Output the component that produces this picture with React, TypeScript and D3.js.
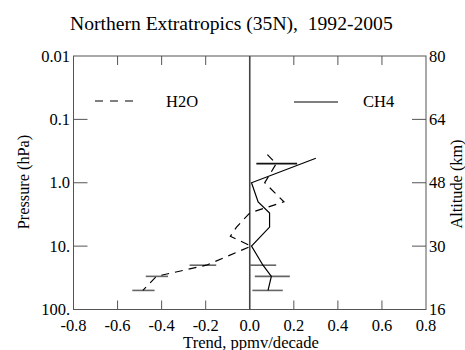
import React from "react";
import * as d3 from "d3";

const xTicks = [-0.8, -0.6, -0.4, -0.2, 0.0, 0.2, 0.4, 0.6, 0.8];
const xTickLabels = ["-0.8", "-0.6", "-0.4", "-0.2", "0.0", "0.2", "0.4", "0.6", "0.8"];
const pTicks = [0.01, 0.1, 1, 10, 100];
const pTickLabels = ["0.01", "0.1", "1.0", "10.", "100."];
const altLabels = ["80", "64", "48", "30", "16"];

const h2oPressure = [0.36, 0.5, 1.0, 2.0, 3.0, 5.0, 7.0, 10, 20, 30, 50];
const h2oTrend = [0.08, 0.12, 0.068, 0.155, 0.0, -0.06, -0.088, 0.006, -0.197, -0.424, -0.485];
const ch4Pressure = [0.41, 1.0, 2.0, 3.0, 5.0, 10, 20, 30, 50];
const ch4Trend = [0.3, 0.008, 0.038, 0.09, 0.09, 0.008, 0.06, 0.098, 0.083];

const h2oErrP = [20, 30, 50];
const h2oErrLo = [-0.273, -0.472, -0.533];
const h2oErrHi = [-0.152, -0.371, -0.432];
const ch4ErrP = [0.5, 20, 30, 50];
const ch4ErrLo = [0.03, 0.0, 0.023, 0.012];
const ch4ErrHi = [0.215, 0.12, 0.182, 0.15];

const FONT = "Liberation Serif";

function T(props: any) {
  const { style, ...rest } = props;
  return <text {...rest} fill="#000" style={{ fontFamily: FONT, whiteSpace: "pre", ...(style || {}) }} />;
}

export default function App() {
  const W = 465, H = 350;
  const left = 73.5, right = 426, top = 56, bottom = 309.5;
  const x = d3.scaleLinear().domain([-0.8, 0.8]).range([left, right]);
  const y = d3.scaleLog().domain([0.01, 100]).range([top, bottom]);
  const line = d3.line<[number, number]>().x(d => x(d[0])).y(d => y(d[1]));
  const h2o = h2oTrend.map((v, i) => [v, h2oPressure[i]] as [number, number]);
  const ch4 = ch4Trend.map((v, i) => [v, ch4Pressure[i]] as [number, number]);
  const frame = "#555";
  return (
    <svg width={W} height={H} style={{ position: "absolute", left: 0, top: 0 }}>
      <rect width={W} height={H} fill="#fff" />
      <T x={70} y={30} fontSize={19.6}>{"Northern Extratropics (35N),  1992-2005"}</T>
      {/* frame */}
      <rect x={left} y={top} width={right - left} height={bottom - top} fill="none" stroke={frame} strokeWidth={1} />
      {/* x ticks */}
      {xTicks.slice(1, -1).filter(t => t !== 0).map(t => (
        <g key={"xt" + t}>
          <line x1={x(t)} x2={x(t)} y1={bottom} y2={bottom - 9} stroke={frame} />
          <line x1={x(t)} x2={x(t)} y1={top} y2={top + 9} stroke={frame} />
        </g>
      ))}
      {xTicks.map((t, i) => (
        <T key={"xl" + i} x={x(t)} y={331} fontSize={16.5} textAnchor="middle">{xTickLabels[i]}</T>
      ))}
      {/* y ticks */}
      {pTicks.slice(1, -1).map(p => (
        <g key={"yt" + p}>
          <line x1={left} x2={left + 14} y1={y(p)} y2={y(p)} stroke={frame} />
          <line x1={right} x2={right - 14} y1={y(p)} y2={y(p)} stroke={frame} />
        </g>
      ))}
      {pTicks.map((p, i) => (
        <T key={"yl" + i} x={70} y={y(p) + 5.5} fontSize={16.5} textAnchor="end">{pTickLabels[i]}</T>
      ))}
      {pTicks.map((p, i) => (
        <T key={"al" + i} x={429} y={y(p) + 5.5} fontSize={16.5} textAnchor="start">{altLabels[i]}</T>
      ))}
      {/* zero line */}
      <line x1={x(0)} x2={x(0)} y1={top} y2={bottom} stroke="#444" strokeWidth={1.6} />
      {/* axis titles */}
      <T transform={`translate(29,182) rotate(-90)`} fontSize={16.3} textAnchor="middle">Pressure (hPa)</T>
      <T transform={`translate(462,184) rotate(-90)`} fontSize={16.3} textAnchor="middle">Altitude (km)</T>
      <T x={251} y={348} fontSize={16.6} textAnchor="middle">Trend, ppmv/decade</T>
      {/* error bars */}
      {h2oErrP.map((p, i) => (
        <line key={"he" + i} x1={x(h2oErrLo[i])} x2={x(h2oErrHi[i])} y1={y(p)} y2={y(p)} stroke="#666" strokeWidth={1.6} />
      ))}
      {ch4ErrP.map((p, i) => (
        <line key={"ce" + i} x1={x(ch4ErrLo[i])} x2={x(ch4ErrHi[i])} y1={y(p)} y2={y(p)} stroke={i === 0 ? "#111" : "#666"} strokeWidth={1.6} />
      ))}
      {/* profiles */}
      <path d={line(h2o) ?? ""} fill="none" stroke="#000" strokeWidth={1.2} strokeDasharray="8,6" />
      <path d={line(ch4) ?? ""} fill="none" stroke="#000" strokeWidth={1.2} />
      {/* legend */}
      <line x1={95} x2={135} y1={101} y2={101} stroke="#000" strokeWidth={1.2} strokeDasharray="8,7" />
      <T x={166} y={107} fontSize={16.5}>H2O</T>
      <line x1={294} x2={338} y1={102} y2={102} stroke="#000" strokeWidth={1.2} />
      <T x={363} y={107} fontSize={16.5}>CH4</T>
    </svg>
  );
}
